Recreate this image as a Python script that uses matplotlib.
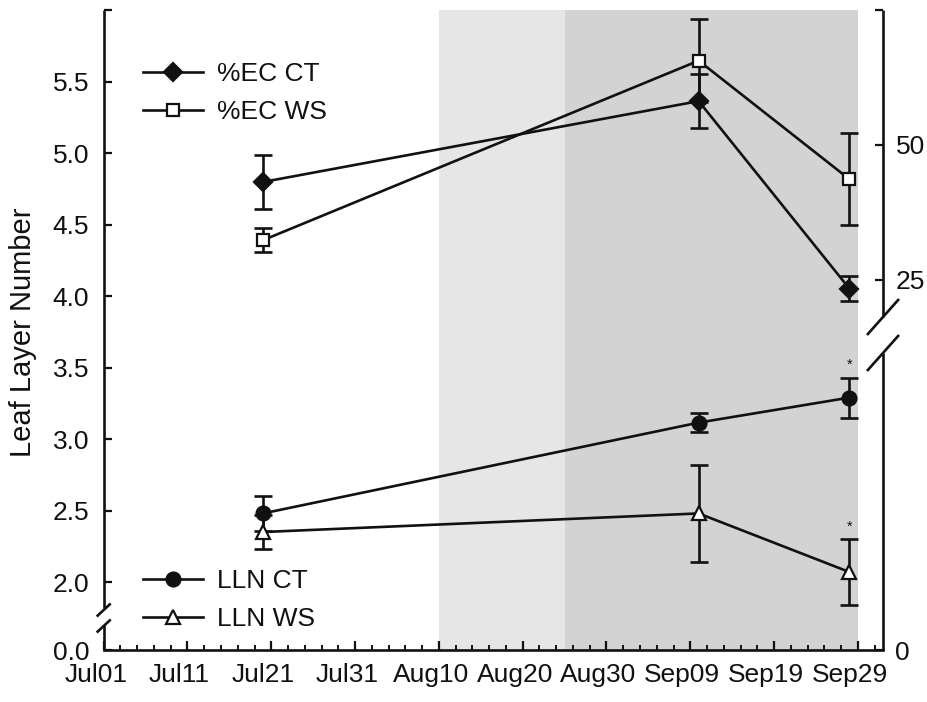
import numpy as np
import matplotlib
matplotlib.use("Agg")
import matplotlib.pyplot as plt
from matplotlib.lines import Line2D
from matplotlib.transforms import ScaledTranslation

plt.rcParams["font.family"] = ["Liberation Sans", "DejaVu Sans"]

# Sampling dates, as days after Jul 01
sample_days = [19, 71, 89]

# Leaf layer number (left axis), mean and standard error
lln_ct = [2.48, 3.115, 3.29]
lln_ct_se = [0.125, 0.065, 0.14]
lln_ws = [2.35, 2.48, 2.07]
lln_ws_se = [0.12, 0.34, 0.23]

# Percent exposed canopy (right axis), mean and standard error
ec_ct = [43.1, 58.1, 23.3]
ec_ct_se = [5.0, 5.0, 2.3]
ec_ws = [32.3, 65.6, 43.6]
ec_ws_se = [2.2, 7.7, 8.5]

# Dates flagged with a significant treatment difference
signif = [False, False, True]

# Treatment periods (days after Jul 01)
period_light = (40, 55)
period_dark = (55, 90)

x_tick_days = list(range(0, 91, 10))
x_tick_labels = ["Jul01", "Jul11", "Jul21", "Jul31", "Aug10",
                 "Aug20", "Aug30", "Sep09", "Sep19", "Sep29"]
left_ticks = [0.0, 2.0, 2.5, 3.0, 3.5, 4.0, 4.5, 5.0, 5.5, 6.0]
left_tick_labels = ["0.0", "2.0", "2.5", "3.0", "3.5", "4.0", "4.5", "5.0", "5.5", ""]
right_ticks = [0, 25, 50, 75]
right_tick_labels = ["0", "25", "50", ""]


def broken_scale(knot, h_knot, slope):
    """Piecewise-linear axis: compressed below `knot`, regular above."""
    low = h_knot / knot

    def fwd(v):
        v = np.asarray(v, dtype=float)
        return np.where(v < knot, v * low, h_knot + (v - knot) * slope)

    def inv(h):
        h = np.asarray(h, dtype=float)
        return np.where(h < h_knot, h / low, knot + (h - h_knot) / slope)

    return fwd, inv


W, H = 928, 702
FS = 19
LW = 1.9
INK = "#111111"

fig = plt.figure(figsize=(W / 100, H / 100), dpi=100)
ax_left, ax_bottom, ax_w, ax_h = 103.7, 52, 779.3, 640
ax = fig.add_axes([ax_left / W, ax_bottom / H, ax_w / W, ax_h / H])
ax2 = ax.twinx()

ax.set_yscale("function", functions=broken_scale(1.75, 32.2, 143.2))
ax2.set_yscale("function", functions=broken_scale(15, 317, 5.4))
ax.set_xlim(0, 93)
ax.set_ylim(0, 6)
ax2.set_ylim(0, 75)

# Shaded treatment periods
ax.axvspan(*period_light, color="#e6e6e6", lw=0, zorder=0)
ax.axvspan(*period_dark, color="#d3d3d3", lw=0, zorder=0)

err_kw = dict(fmt="none", ecolor=INK, elinewidth=LW, capsize=6.5, capthick=LW, zorder=2)
line_kw = dict(color=INK, lw=LW, mew=1.6, mec=INK, zorder=3)

# Leaf layer number
ax.errorbar(sample_days, lln_ct, yerr=lln_ct_se, **err_kw)
ax.errorbar(sample_days, lln_ws, yerr=lln_ws_se, **err_kw)
h_lct, = ax.plot(sample_days, lln_ct, marker="o", ms=10, mfc=INK, label="LLN CT", **line_kw)
h_lws, = ax.plot(sample_days, lln_ws, marker="^", ms=10, mfc="white", label="LLN WS", **line_kw)

# Exposed canopy percentage
ax2.errorbar(sample_days, ec_ct, yerr=ec_ct_se, **err_kw)
ax2.errorbar(sample_days, ec_ws, yerr=ec_ws_se, **err_kw)
h_ect, = ax2.plot(sample_days, ec_ct, marker="D", ms=9.5, mfc=INK, label="%EC CT", **line_kw)
h_ews, = ax2.plot(sample_days, ec_ws, marker="s", ms=8.5, mfc="white", label="%EC WS", **line_kw)

# Significance markers above the last-date error bars
for i, flag in enumerate(signif):
    if not flag:
        continue
    for mean, se in ((lln_ct, lln_ct_se), (lln_ws, lln_ws_se)):
        ax.annotate("*", xy=(sample_days[i], mean[i] + se[i]), xytext=(0, 6),
                    textcoords="offset points", ha="center", va="baseline",
                    fontsize=10.5, color=INK)

# Axis ticks
ax.set_xticks(x_tick_days, x_tick_labels)
ax.set_xticks(np.arange(0, 93, 2), minor=True)
ax.set_yticks(left_ticks, left_tick_labels)
ax.yaxis.set_minor_locator(matplotlib.ticker.NullLocator())
ax2.set_yticks(right_ticks, right_tick_labels)
ax2.yaxis.set_minor_locator(matplotlib.ticker.NullLocator())

ax.tick_params(axis="x", which="major", direction="in", length=6.5, width=1.6,
               pad=9.5, labelsize=FS, labelcolor=INK, color=INK, top=False)
ax.tick_params(axis="x", which="minor", direction="in", length=3.6, width=1.4,
               color=INK, top=False)
ax.tick_params(axis="y", direction="in", length=6, width=1.6, pad=10.5,
               labelsize=FS, labelcolor=INK, color=INK, right=False)
ax2.tick_params(axis="y", direction="in", length=6, width=1.6, pad=9,
                labelsize=FS, labelcolor=INK, color=INK)

# Date labels sit slightly left of their ticks
shift = ScaledTranslation(-8 / 100, 0, fig.dpi_scale_trans)
for lbl in ax.get_xticklabels():
    lbl.set_transform(lbl.get_transform() + shift)

# Spines with break marks
for s in ("top", "left", "right"):
    ax.spines[s].set_visible(False)
for s in ax2.spines.values():
    s.set_visible(False)
ax.spines["bottom"].set_linewidth(LW)
ax.spines["bottom"].set_color(INK)


def frac_y(py):
    """Axes fraction for a height given in pixels from the figure top."""
    return (H - ax_bottom - py) / ax_h


def seg(x0, y0, x1, y1):
    ax.add_line(Line2D([x0, x1], [y0, y1], transform=ax.transAxes, color=INK,
                       lw=LW, clip_on=False, solid_capstyle="butt", zorder=5))


# left axis: broken between 0.0 and 2.0
seg(0, frac_y(608), 0, 1)
seg(0, 0, 0, frac_y(625))
for cy in (610, 626):
    dx, dy = 7 / ax_w, 6.5 / ax_h
    seg(-dx, frac_y(cy) - dy, dx, frac_y(cy) + dy)

# right axis: broken between 0 and 25
seg(1, frac_y(317), 1, 1)
seg(1, 0, 1, frac_y(353))
for cy in (317, 353):
    dx, dy = 16 / ax_w, 18 / ax_h
    seg(1 - dx, frac_y(cy) - dy, 1 + dx, frac_y(cy) + dy)

# Legends
leg_kw = dict(frameon=False, fontsize=FS, handlelength=2.27, handletextpad=0.55,
              borderpad=0, borderaxespad=0, labelspacing=0.53, loc="upper left",
              bbox_transform=fig.transFigure, labelcolor=INK)
leg1 = ax2.legend(handles=[h_ect, h_ews], bbox_to_anchor=(143 / W, 1 - 62 / H), **leg_kw)
leg2 = ax.legend(handles=[h_lct, h_lws], bbox_to_anchor=(143 / W, 1 - 569 / H), **leg_kw)

fig.text(23 / W, 1 - 332 / H, "Leaf Layer Number", rotation=90, ha="center",
         va="center", fontsize=21, color=INK)

fig.savefig("out.png", dpi=100)
